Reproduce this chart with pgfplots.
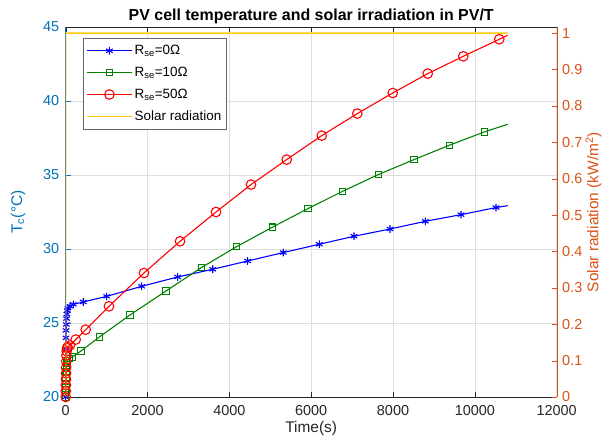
\documentclass[border=0pt]{standalone}
\usepackage{fontspec}
\setmainfont{Liberation Sans}
\usepackage{pgfplots}
\pgfplotsset{compat=1.18}
\usepackage{pgfplotstable}
\definecolor{lcol}{rgb}{0,0.447,0.741}
\definecolor{rcol}{rgb}{0.85,0.325,0.098}
\definecolor{gcol}{rgb}{0,0.5,0}
\definecolor{ycol}{rgb}{1,0.8,0.05}
\definecolor{gridc}{rgb}{0.87,0.87,0.87}
\definecolor{txt}{rgb}{0.15,0.15,0.15}

\pgfplotstableread{
x y
0 20
3 23.2
6 24.0
10 24.5
15 24.9
22 25.3
30 25.6
40 25.85
55 26.0
105 26.13
186 26.26
430 26.42
1002 26.8
1857 27.48
2737 28.11
3593 28.63
4448 29.19
5318 29.76
6198 30.32
7046 30.86
7926 31.35
8789 31.87
9661 32.32
10517 32.8
10803 32.93
}\blueT

\pgfplotstableread{
x y
0 20
2 20.3
4 20.6
6 20.9
9 21.3
13 21.7
18 22.0
26 22.3
40 22.45
81 22.6
161 22.7
374 23.11
821 24.05
1571 25.54
2451 27.16
3324 28.76
4179 30.16
5049 31.47
5922 32.73
6770 33.9
7640 35.03
8513 36.04
9375 37.01
10231 37.91
10803 38.43
}\greenT

\pgfplotstableread{
x y
0 20
2 20.4
4 20.8
6 21.2
8 21.6
10 22.0
13 22.4
17 22.8
23 23.1
33 23.3
49 23.38
105 23.49
244 23.88
489 24.55
1058 26.13
1914 28.38
2794 30.52
3674 32.5
4529 34.35
5401 36.04
6257 37.66
7127 39.15
7992 40.54
8847 41.85
9717 43.02
10597 44.17
10803 44.44
}\redT

\pgfplotstableread{
x y
0 0
1 1
10803 1
}\solarT

\begin{document}
\begin{tikzpicture}
\pgfplotsset{
  common/.style={
    scale only axis, width=491bp, height=370bp,
    at={(0,0)}, anchor=south west,
    xmin=0, xmax=12000,
    xtick={0,2000,4000,6000,8000,10000,12000},
    scaled ticks=false,
    /pgf/number format/1000 sep={},
    /pgf/number format/assume math mode=true,
    tick align=inside,
    major tick length=5bp,
    ticklabel style={font=\fontsize{14.5}{17}\selectfont},
  }
}
\begin{axis}[common,
  ymin=20, ymax=45,
  ytick={20,25,30,35,40,45},
  separate axis lines,
  axis x line=box,
  axis y line*=left,
  x axis line style={txt,-},
  y axis line style={lcol,-},
  xtick style={txt},
  ytick style={lcol},
  xticklabel style={txt, yshift=-5bp},
  yticklabel style={lcol, xshift=-3bp},
  grid=major,
  major grid style={gridc, line width=0.5pt},
  xlabel={Time(s)},
  every axis x label/.style={at={(axis description cs:0.5,-0.086)}, anchor=center, txt, font=\fontsize{15.5}{18}\selectfont},
  ylabel={T\textsubscript{c}(°C)},
  every axis y label/.style={at={(axis description cs:-0.097,0.5)}, rotate=90, anchor=center, lcol, font=\fontsize{15.5}{18}\selectfont},
  title={\textbf{PV cell temperature and solar irradiation in PV/T}},
  every axis title/.style={at={(axis description cs:0.5,1)}, anchor=south, font=\fontsize{16}{19}\selectfont, yshift=0pt},
]
\addplot[blue, line width=1.1pt] table {\blueT};
\addplot[blue, only marks, mark=asterisk, mark size=3.8bp, mark options={line width=1.1pt}, skip coords between index={24}{25}] table {\blueT};
\addplot[gcol, line width=1.1pt] table {\greenT};
\addplot[gcol, only marks, mark=square, mark size=3.2bp, mark options={line width=1.1pt}, skip coords between index={24}{25}] table {\greenT};
\addplot[red, line width=1.1pt] table {\redT};
\addplot[red, only marks, mark=o, mark size=4.8bp, mark options={line width=1.1pt}, skip coords between index={26}{27}] table {\redT};
\end{axis}
\begin{axis}[common,
  ymin=0, ymax=1.017,
  ytick={0,0.1,0.2,0.3,0.4,0.5,0.6,0.7,0.8,0.9,1},
  yticklabels={0,0.1,0.2,0.3,0.4,0.5,0.6,0.7,0.8,0.9,1},
  axis x line=none,
  axis y line*=right,
  y axis line style={rcol,-},
  ytick style={rcol},
  yticklabel style={rcol, xshift=2bp},
  ylabel={Solar radiation (kW/m\textsuperscript{2})},
  every axis y label/.style={at={(axis description cs:1.075,0.5)}, rotate=90, anchor=center, rcol, font=\fontsize{15.5}{18}\selectfont},
  legend style={at={(axis description cs:0.0352,0.970)}, anchor=north west,
    draw=black!60, fill=white,
    font=\fontsize{13.5}{16}\selectfont, inner xsep=3bp, inner ysep=5bp, row sep=7bp,
    cells={anchor=west}},
  legend image code/.code={\draw[mark repeat=2,mark phase=2,#1] plot coordinates {(0bp,0bp)(22.5bp,0bp)(45bp,0bp)};},
]
\addlegendimage{blue, line width=1.1pt, mark=asterisk, mark size=3.8bp}
\addlegendentry{R\textsubscript{se}=0Ω}
\addlegendimage{gcol, line width=1.1pt, mark=square, mark size=3.2bp}
\addlegendentry{R\textsubscript{se}=10Ω}
\addlegendimage{red, line width=1.1pt, mark=o, mark size=4.8bp}
\addlegendentry{R\textsubscript{se}=50Ω}
\addplot[ycol, line width=1.5pt] table {\solarT};
\addlegendentry{Solar radiation}
\end{axis}
\pgfresetboundingbox
\path[use as bounding box] (-65.7bp,-47bp) rectangle (546.3bp,397bp);
\end{tikzpicture}
\end{document}
